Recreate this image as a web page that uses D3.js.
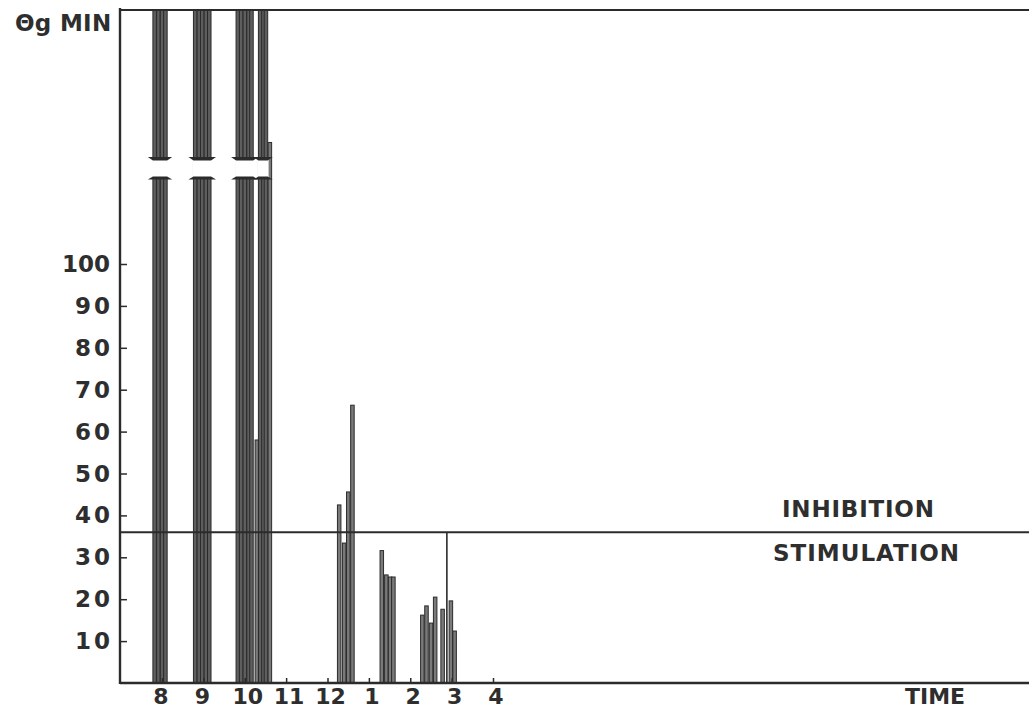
<!DOCTYPE html>
<html>
<head>
<meta charset="utf-8">
<script src="https://cdn.jsdelivr.net/npm/d3@7"></script>
<style>
  html, body { margin: 0; padding: 0; background: #fff; }
  svg { display: block; }
  text { font-family: "DejaVu Sans", "Liberation Sans", sans-serif; font-weight: bold; fill: #2e2e2e; }
</style>
</head>
<body>
<svg id="chart" width="1029" height="719"></svg>
<script>
// Clock hours along the time axis (13 = 1 pm, etc.) and their printed labels
const hourTicks  = [8, 9, 10, 11, 12, 13, 14, 15, 16];
const hourLabels = ["8", "9", "10", "11", "12", "1", "2", "3", "4"];

// Value axis ticks (θg per minute)
const valueTicks = [10, 20, 30, 40, 50, 60, 70, 80, 90, 100];

// Boundary between inhibition (above) and stimulation (below)
const threshold = 36;

// Sample start times (decimal hours) and readings; 999 marks an off-scale reading
const sampleTimes = [
  7.78, 7.87, 7.96, 8.04,
  8.76, 8.85, 8.93, 9.02, 9.10,
  9.79, 9.87, 9.96, 10.05, 10.12,
  10.25, 10.33, 10.41, 10.47, 10.565,
  12.24, 12.36, 12.46, 12.56,
  13.27, 13.38, 13.47, 13.55,
  14.25, 14.35, 14.46, 14.56, 14.74, 14.94, 15.03
];
const sampleValues = [
  999, 999, 999, 999,
  999, 999, 999, 999, 999,
  999, 999, 999, 999, 999,
  58, 999, 999, 999, 129,
  42.5, 33.4, 45.6, 66.3,
  31.6, 25.8, 25.3, 25.3,
  16.2, 18.4, 14.3, 20.5, 17.6, 19.6, 12.4
];
// Marker drawn from the threshold line down to the axis at the end of the afternoon run
const markerTime = 14.885;

const svg = d3.select("#chart");
const plotLeft = 120, plotRight = 1029, plotBottom = 683, plotTop = 10;
const ink = "#2b2b2b";

// Time scale: one hour ≈ 41.4 px, with 8 o'clock at x = 162
const x = d3.scaleLinear().domain([8, 16]).range([162, 493]);
// Value scale: 0..100 spans the lower part; continues upward past the break
const y = d3.scaleLinear().domain([0, 100]).range([plotBottom, 264]);
const yTopValue = y.invert(plotTop);
const barW = 3.5;

const samples = sampleTimes.map((t, i) => ({ t, v: sampleValues[i] }));

// Bars
const bars = svg.append("g");
bars.selectAll("rect")
  .data(samples)
  .join("rect")
  .attr("x", d => x(d.t))
  .attr("width", barW)
  .attr("y", d => y(Math.min(d.v, yTopValue)))
  .attr("height", d => plotBottom - y(Math.min(d.v, yTopValue)))
  .attr("fill", d => d.v > yTopValue ? "#5e5e5e" : "#7a7a7a")
  .attr("stroke", ink)
  .attr("stroke-width", 1);

// Scale break across the off-scale bar groups
const offScale = samples.filter(d => d.v > yTopValue);
const groups = [];
offScale.forEach(d => {
  const x0 = x(d.t), x1 = x(d.t) + barW;
  const g = groups[groups.length - 1];
  if (g && x0 - g.x1 < 2) g.x1 = Math.max(g.x1, x1);
  else groups.push({ x0, x1 });
});
const breakTop = 159, breakBottom = 178;
const brk = svg.append("g");
brk.selectAll("rect")
  .data(groups)
  .join("rect")
  .attr("x", d => d.x0 - 1)
  .attr("width", d => d.x1 - d.x0 + 2)
  .attr("y", breakTop)
  .attr("height", breakBottom - breakTop)
  .attr("fill", "#fff");
brk.selectAll("path.cap-top")
  .data(groups)
  .join("path")
  .attr("class", "cap-top")
  .attr("d", d => `M${d.x0 - 5},${breakTop - 2} L${d.x1 + 5},${breakTop - 2} L${d.x1},${breakTop + 1.5} L${d.x0},${breakTop + 1.5} Z`)
  .attr("fill", ink);
brk.selectAll("path.cap-bottom")
  .data(groups)
  .join("path")
  .attr("class", "cap-bottom")
  .attr("d", d => `M${d.x0},${breakBottom - 1.5} L${d.x1},${breakBottom - 1.5} L${d.x1 + 5},${breakBottom + 1.5} L${d.x0 - 5},${breakBottom + 1.5} Z`)
  .attr("fill", ink);

// Threshold line and its marker
svg.append("line")
  .attr("x1", plotLeft).attr("x2", plotRight)
  .attr("y1", y(threshold)).attr("y2", y(threshold))
  .attr("stroke", ink).attr("stroke-width", 2);
svg.append("line")
  .attr("x1", x(markerTime)).attr("x2", x(markerTime))
  .attr("y1", y(threshold)).attr("y2", plotBottom)
  .attr("stroke", ink).attr("stroke-width", 1.6);

// Frame: top rule
svg.append("line")
  .attr("x1", plotLeft).attr("x2", plotRight)
  .attr("y1", plotTop).attr("y2", plotTop)
  .attr("stroke", ink).attr("stroke-width", 2);

// Value axis with inward ticks
const yAxis = svg.append("g")
  .attr("transform", `translate(${plotLeft},0)`)
  .call(d3.axisRight(y).tickValues(valueTicks).tickSize(7).tickFormat(""));
yAxis.select(".domain").remove();
yAxis.selectAll("line").attr("stroke", ink).attr("stroke-width", 1.5);
svg.append("line")
  .attr("x1", plotLeft).attr("x2", plotLeft)
  .attr("y1", plotTop - 2).attr("y2", plotBottom + 1)
  .attr("stroke", ink).attr("stroke-width", 2.4);

svg.append("g").selectAll("text")
  .data(valueTicks)
  .join("text")
  .attr("x", d => d === 100 ? 110 : 113)
  .attr("y", d => y(d) + 8)
  .attr("text-anchor", "end")
  .attr("font-size", 23)
  .attr("letter-spacing", d => d === 100 ? 0 : 3)
  .text(d => d);

// Time axis with small upward ticks
const xAxis = svg.append("g")
  .attr("transform", `translate(0,${plotBottom})`)
  .call(d3.axisTop(x).tickValues(hourTicks).tickSize(5).tickFormat(""));
xAxis.select(".domain").remove();
xAxis.selectAll("line").attr("stroke", ink).attr("stroke-width", 1.5);
svg.append("line")
  .attr("x1", plotLeft).attr("x2", plotRight)
  .attr("y1", plotBottom).attr("y2", plotBottom)
  .attr("stroke", ink).attr("stroke-width", 2.4);

svg.append("g").selectAll("text")
  .data(hourTicks)
  .join("text")
  .attr("x", d => x(d) + (d >= 10 ? 3 : -1))
  .attr("y", 704)
  .attr("text-anchor", "middle")
  .attr("font-size", 22)
  .text((d, i) => hourLabels[i]);

// Titles and region labels
svg.append("text")
  .attr("x", 15).attr("y", 31)
  .attr("font-size", 23)
  .attr("letter-spacing", 0.3)
  .text("Θg MIN");
svg.append("text")
  .attr("x", 905).attr("y", 704)
  .attr("font-size", 22)
  .text("TIME");
svg.append("text")
  .attr("x", 782).attr("y", 517)
  .attr("font-size", 23)
  .attr("letter-spacing", 0.8)
  .text("INHIBITION");
svg.append("text")
  .attr("x", 773).attr("y", 561)
  .attr("font-size", 23)
  .attr("letter-spacing", 1)
  .text("STIMULATION");
</script>
</body>
</html>
